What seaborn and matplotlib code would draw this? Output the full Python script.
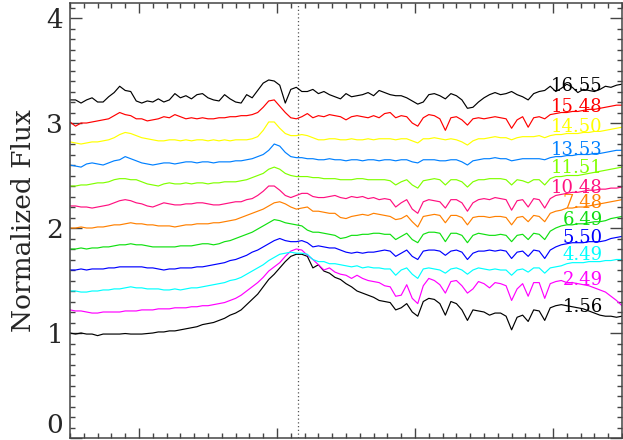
import numpy as np
import pandas as pd
import matplotlib
matplotlib.use("Agg")
import matplotlib.pyplot as plt
from matplotlib.ticker import MultipleLocator, NullFormatter
import seaborn as sns

# Wavelength grid of the resampled spectra (Angstrom)
wavelength = np.arange(5950, 6351, 4)

# Epoch of each spectrum (days), listed bottom to top
epochs = ["1.56", "2.49", "4.49", "5.50", "6.49", "7.48",
          "10.48", "11.51", "13.53", "14.50", "15.48", "16.55"]

colors = ["#000000", "#ff00ff", "#00ffff", "#0000ff", "#10e010", "#ff8000",
          "#ff1080", "#80ff00", "#0080ff", "#ffff00", "#ff0000", "#000000"]

# Normalized flux of each spectrum, vertically offset for display
flux_1_56 = [1.00, 0.99, 1.00, 0.99, 0.99, 0.975, 0.99, 0.99, 0.99, 0.99,
             0.995, 0.99, 0.99, 0.99, 0.995, 1.00, 1.01, 1.01, 1.02, 1.02,
             1.03, 1.04, 1.05, 1.06, 1.08, 1.09, 1.10, 1.12, 1.14, 1.17,
             1.19, 1.22, 1.27, 1.32, 1.37, 1.44, 1.51, 1.56, 1.62, 1.68,
             1.73, 1.75, 1.75, 1.73, 1.62, 1.65, 1.59, 1.57, 1.53, 1.51,
             1.47, 1.44, 1.40, 1.38, 1.36, 1.34, 1.31, 1.30, 1.29, 1.22,
             1.24, 1.28, 1.20, 1.16, 1.30, 1.33, 1.32, 1.28, 1.17, 1.30,
             1.28, 1.22, 1.12, 1.22, 1.21, 1.20, 1.17, 1.19, 1.19, 1.16,
             1.03, 1.15, 1.17, 1.11, 1.22, 1.21, 1.12, 1.24, 1.26, 1.27,
             1.26, 1.25, 1.24, 1.23, 1.21, 1.19, 1.17, 1.16, 1.16, 1.15,
             1.16]
flux_2_49 = [1.22, 1.21, 1.21, 1.20, 1.19, 1.19, 1.20, 1.20, 1.20, 1.20,
             1.21, 1.21, 1.21, 1.22, 1.22, 1.22, 1.23, 1.23, 1.23, 1.24,
             1.24, 1.24, 1.25, 1.25, 1.26, 1.26, 1.27, 1.28, 1.29, 1.31,
             1.33, 1.36, 1.40, 1.44, 1.48, 1.53, 1.59, 1.63, 1.67, 1.73,
             1.78, 1.80, 1.79, 1.74, 1.70, 1.65, 1.60, 1.62, 1.58, 1.56,
             1.55, 1.52, 1.55, 1.52, 1.50, 1.49, 1.48, 1.45, 1.44, 1.35,
             1.36, 1.46, 1.33, 1.28, 1.45, 1.52, 1.50, 1.46, 1.38, 1.49,
             1.50, 1.45, 1.38, 1.42, 1.49, 1.47, 1.43, 1.48, 1.47, 1.45,
             1.31, 1.42, 1.47, 1.35, 1.48, 1.48, 1.33, 1.47, 1.49, 1.50,
             1.48, 1.48, 1.47, 1.46, 1.45, 1.43, 1.41, 1.39, 1.35, 1.31,
             1.26]
flux_4_49 = [1.40, 1.40, 1.39, 1.39, 1.40, 1.40, 1.41, 1.41, 1.42, 1.42,
             1.43, 1.44, 1.43, 1.43, 1.42, 1.42, 1.42, 1.41, 1.41, 1.42,
             1.41, 1.42, 1.43, 1.43, 1.44, 1.45, 1.46, 1.47, 1.48, 1.50,
             1.51, 1.53, 1.56, 1.59, 1.62, 1.65, 1.69, 1.72, 1.75, 1.76,
             1.77, 1.76, 1.76, 1.75, 1.70, 1.68, 1.68, 1.66, 1.66, 1.65,
             1.64, 1.63, 1.64, 1.62, 1.63, 1.62, 1.62, 1.61, 1.61, 1.55,
             1.60, 1.62, 1.56, 1.52, 1.61, 1.62, 1.61, 1.60, 1.57, 1.61,
             1.62, 1.60, 1.56, 1.60, 1.62, 1.61, 1.60, 1.61, 1.60, 1.60,
             1.55, 1.60, 1.61, 1.58, 1.62, 1.62, 1.57, 1.62, 1.63, 1.64,
             1.66, 1.67, 1.67, 1.67, 1.68, 1.68, 1.68, 1.69, 1.69, 1.70,
             1.70]
flux_5_50 = [1.60, 1.60, 1.61, 1.60, 1.61, 1.61, 1.61, 1.62, 1.62, 1.63,
             1.63, 1.63, 1.63, 1.63, 1.62, 1.62, 1.61, 1.60, 1.61, 1.61,
             1.62, 1.62, 1.62, 1.63, 1.63, 1.64, 1.65, 1.66, 1.67, 1.69,
             1.70, 1.72, 1.74, 1.77, 1.79, 1.82, 1.85, 1.88, 1.90, 1.88,
             1.87, 1.87, 1.88, 1.86, 1.82, 1.83, 1.82, 1.81, 1.81, 1.79,
             1.77, 1.76, 1.77, 1.76, 1.77, 1.77, 1.78, 1.79, 1.78, 1.73,
             1.76, 1.79, 1.73, 1.70, 1.78, 1.79, 1.79, 1.78, 1.74, 1.78,
             1.79, 1.77, 1.70, 1.76, 1.78, 1.78, 1.79, 1.78, 1.79, 1.78,
             1.71, 1.77, 1.78, 1.73, 1.79, 1.78, 1.71, 1.79, 1.82, 1.84,
             1.85, 1.86, 1.86, 1.86, 1.87, 1.87, 1.87, 1.88, 1.90, 1.91,
             1.92]
flux_6_49 = [1.80, 1.80, 1.81, 1.80, 1.81, 1.81, 1.82, 1.82, 1.83, 1.84,
             1.84, 1.85, 1.84, 1.84, 1.83, 1.82, 1.82, 1.82, 1.82, 1.82,
             1.83, 1.83, 1.83, 1.84, 1.85, 1.85, 1.84, 1.85, 1.87, 1.88,
             1.90, 1.92, 1.94, 1.96, 1.99, 2.02, 2.05, 2.08, 2.07, 2.05,
             2.04, 2.03, 2.02, 1.98, 1.96, 1.96, 1.95, 1.94, 1.93, 1.90,
             1.91, 1.93, 1.93, 1.94, 1.94, 1.95, 1.95, 1.94, 1.94, 1.89,
             1.92, 1.95, 1.89, 1.86, 1.94, 1.96, 1.96, 1.95, 1.87, 1.95,
             1.95, 1.93, 1.86, 1.93, 1.95, 1.94, 1.93, 1.93, 1.94, 1.93,
             1.87, 1.93, 1.94, 1.89, 1.95, 1.94, 1.89, 1.97, 2.00, 2.02,
             2.03, 2.03, 2.04, 2.04, 2.05, 2.06, 2.06, 2.07, 2.09, 2.10,
             2.11]
flux_7_48 = [2.00, 2.00, 2.01, 2.00, 2.00, 2.01, 2.01, 2.02, 2.03, 2.03,
             2.04, 2.05, 2.04, 2.04, 2.03, 2.03, 2.02, 2.02, 2.02, 2.01,
             2.02, 2.03, 2.03, 2.04, 2.04, 2.04, 2.05, 2.05, 2.06, 2.07,
             2.08, 2.10, 2.12, 2.14, 2.16, 2.18, 2.21, 2.24, 2.25, 2.23,
             2.20, 2.18, 2.19, 2.20, 2.16, 2.16, 2.15, 2.14, 2.14, 2.10,
             2.09, 2.11, 2.12, 2.13, 2.12, 2.14, 2.13, 2.12, 2.11, 2.08,
             2.09, 2.12, 2.06, 2.01, 2.11, 2.12, 2.13, 2.12, 2.05, 2.12,
             2.12, 2.10, 2.03, 2.10, 2.11, 2.11, 2.10, 2.11, 2.11, 2.10,
             2.03, 2.10, 2.11, 2.06, 2.12, 2.11, 2.06, 2.14, 2.16, 2.17,
             2.19, 2.19, 2.20, 2.20, 2.21, 2.22, 2.23, 2.24, 2.25, 2.26,
             2.27]
flux_10_48 = [2.21, 2.21, 2.20, 2.20, 2.19, 2.20, 2.21, 2.22, 2.24, 2.26,
              2.27, 2.26, 2.24, 2.23, 2.21, 2.20, 2.22, 2.24, 2.23, 2.22,
              2.22, 2.23, 2.23, 2.24, 2.24, 2.23, 2.22, 2.22, 2.23, 2.24,
              2.25, 2.25, 2.27, 2.28, 2.31, 2.35, 2.40, 2.40, 2.36, 2.31,
              2.29, 2.31, 2.33, 2.33, 2.30, 2.29, 2.29, 2.30, 2.31, 2.29,
              2.28, 2.30, 2.29, 2.30, 2.28, 2.29, 2.27, 2.28, 2.27, 2.20,
              2.24, 2.27, 2.18, 2.14, 2.25, 2.27, 2.26, 2.25, 2.19, 2.27,
              2.27, 2.24, 2.16, 2.24, 2.27, 2.28, 2.27, 2.29, 2.28, 2.27,
              2.17, 2.26, 2.27, 2.20, 2.28, 2.27, 2.19, 2.28, 2.31, 2.32,
              2.33, 2.34, 2.34, 2.35, 2.36, 2.36, 2.37, 2.37, 2.38, 2.38,
              2.39]
flux_11_51 = [2.40, 2.40, 2.41, 2.41, 2.42, 2.43, 2.43, 2.44, 2.46, 2.47,
              2.47, 2.46, 2.46, 2.44, 2.42, 2.41, 2.40, 2.42, 2.43, 2.42,
              2.42, 2.43, 2.42, 2.43, 2.43, 2.42, 2.43, 2.43, 2.44, 2.44,
              2.44, 2.45, 2.46, 2.48, 2.50, 2.52, 2.56, 2.58, 2.56, 2.52,
              2.50, 2.49, 2.49, 2.49, 2.48, 2.48, 2.47, 2.47, 2.47, 2.46,
              2.46, 2.46, 2.47, 2.47, 2.46, 2.46, 2.46, 2.46, 2.45, 2.41,
              2.44, 2.46, 2.41, 2.38, 2.45, 2.46, 2.47, 2.46, 2.41, 2.46,
              2.46, 2.44, 2.39, 2.44, 2.46, 2.46, 2.47, 2.47, 2.47, 2.46,
              2.41, 2.46, 2.45, 2.43, 2.46, 2.46, 2.41, 2.47, 2.49, 2.49,
              2.50, 2.50, 2.50, 2.51, 2.52, 2.53, 2.54, 2.55, 2.56, 2.57,
              2.58]
flux_13_53 = [2.60, 2.59, 2.58, 2.61, 2.62, 2.61, 2.60, 2.62, 2.64, 2.65,
              2.68, 2.66, 2.64, 2.62, 2.61, 2.60, 2.61, 2.62, 2.62, 2.61,
              2.62, 2.63, 2.63, 2.62, 2.63, 2.63, 2.62, 2.63, 2.63, 2.63,
              2.64, 2.64, 2.65, 2.66, 2.68, 2.70, 2.74, 2.80, 2.78, 2.72,
              2.68, 2.67, 2.67, 2.66, 2.66, 2.65, 2.65, 2.66, 2.65, 2.65,
              2.64, 2.65, 2.65, 2.64, 2.65, 2.65, 2.64, 2.65, 2.65, 2.64,
              2.65, 2.65, 2.63, 2.62, 2.65, 2.65, 2.65, 2.64, 2.64, 2.65,
              2.65, 2.63, 2.60, 2.64, 2.65, 2.66, 2.66, 2.67, 2.66, 2.66,
              2.64, 2.65, 2.66, 2.66, 2.66, 2.66, 2.65, 2.67, 2.68, 2.68,
              2.69, 2.69, 2.70, 2.70, 2.70, 2.71, 2.71, 2.72, 2.73, 2.74,
              2.74]
flux_14_50 = [2.82, 2.81, 2.80, 2.81, 2.82, 2.82, 2.83, 2.84, 2.86, 2.89,
              2.91, 2.90, 2.88, 2.86, 2.85, 2.84, 2.83, 2.83, 2.84, 2.84,
              2.83, 2.84, 2.83, 2.84, 2.84, 2.83, 2.84, 2.83, 2.84, 2.83,
              2.84, 2.84, 2.84, 2.85, 2.87, 2.93, 3.01, 3.01, 2.95, 2.90,
              2.88, 2.88, 2.89, 2.88, 2.86, 2.84, 2.84, 2.85, 2.85, 2.84,
              2.84, 2.85, 2.84, 2.84, 2.85, 2.84, 2.85, 2.85, 2.85, 2.84,
              2.85, 2.85, 2.83, 2.81, 2.85, 2.85, 2.86, 2.85, 2.84, 2.85,
              2.84, 2.82, 2.79, 2.83, 2.85, 2.85, 2.86, 2.87, 2.86, 2.86,
              2.84, 2.86, 2.87, 2.87, 2.87, 2.88, 2.86, 2.88, 2.89, 2.89,
              2.90, 2.90, 2.90, 2.91, 2.91, 2.92, 2.92, 2.93, 2.94, 2.95,
              2.96]
flux_15_48 = [3.01, 2.97, 3.00, 3.00, 3.01, 3.02, 3.03, 3.04, 3.07, 3.10,
              3.08, 3.07, 3.04, 3.04, 3.02, 3.03, 3.04, 3.06, 3.05, 3.08,
              3.06, 3.04, 3.05, 3.04, 3.05, 3.04, 3.04, 3.05, 3.05, 3.06,
              3.06, 3.07, 3.07, 3.08, 3.10, 3.15, 3.21, 3.22, 3.16, 3.10,
              3.05, 3.04, 3.06, 3.09, 3.05, 3.07, 3.06, 3.08, 3.07, 3.06,
              3.03, 3.06, 3.07, 3.06, 3.05, 3.07, 3.05, 3.09, 3.10, 3.05,
              3.07, 3.06, 3.00, 2.97, 3.05, 3.08, 3.07, 3.04, 2.93, 3.05,
              3.06, 3.03, 2.98, 3.04, 3.05, 3.04, 3.05, 3.06, 3.05, 3.04,
              2.95, 3.03, 3.06, 2.96, 3.05, 3.06, 3.04, 3.08, 3.09, 3.10,
              3.10, 3.11, 3.11, 3.12, 3.13, 3.13, 3.14, 3.15, 3.16, 3.17,
              3.17]
flux_16_55 = [3.22, 3.22, 3.19, 3.22, 3.24, 3.20, 3.20, 3.25, 3.29, 3.35,
              3.31, 3.30, 3.21, 3.19, 3.21, 3.20, 3.23, 3.20, 3.22, 3.28,
              3.24, 3.26, 3.23, 3.27, 3.28, 3.24, 3.22, 3.21, 3.27, 3.23,
              3.20, 3.19, 3.27, 3.24, 3.31, 3.38, 3.41, 3.40, 3.36, 3.19,
              3.32, 3.34, 3.30, 3.30, 3.32, 3.28, 3.30, 3.27, 3.25, 3.23,
              3.28, 3.25, 3.26, 3.27, 3.29, 3.26, 3.31, 3.29, 3.27, 3.26,
              3.26, 3.24, 3.21, 3.18, 3.20, 3.27, 3.28, 3.26, 3.23, 3.28,
              3.26, 3.22, 3.14, 3.15, 3.20, 3.24, 3.27, 3.29, 3.27, 3.28,
              3.30, 3.27, 3.25, 3.22, 3.28, 3.30, 3.31, 3.35, 3.30, 3.33,
              3.37, 3.34, 3.29, 3.32, 3.31, 3.30, 3.32, 3.35, 3.34, 3.36,
              3.37]

fluxes = [flux_1_56, flux_2_49, flux_4_49, flux_5_50, flux_6_49, flux_7_48,
          flux_10_48, flux_11_51, flux_13_53, flux_14_50, flux_15_48, flux_16_55]

# Baseline height of each epoch label next to its spectrum
label_y = [1.20, 1.457, 1.695, 1.857, 2.029, 2.19,
           2.333, 2.524, 2.695, 2.914, 3.105, 3.305]
label_x = 6336
line_center = 6115

df = pd.concat(
    [pd.DataFrame({"wavelength": wavelength, "flux": f, "epoch": e})
     for e, f in zip(epochs, fluxes)],
    ignore_index=True,
)

sns.set_style("ticks")
plt.rcParams["font.family"] = ["DejaVu Serif"]

fig = plt.figure(figsize=(6.23, 4.40), dpi=100)
ax = fig.add_axes([70 / 623, 2 / 440, 552 / 623, 435 / 440])

sns.lineplot(data=df, x="wavelength", y="flux", hue="epoch",
             hue_order=epochs, palette=colors, legend=False,
             estimator=None, sort=False, linewidth=0.85, ax=ax)

ax.axvline(line_center, color="#555555", linestyle=(0, (1, 2)),
           linewidth=0.9, zorder=0)

for e, c, y in zip(epochs, colors, label_y):
    ax.text(label_x, y, e, color=c, ha="right", va="baseline",
            fontsize=13, family="DejaVu Serif")

ax.set_xlim(5950, 6350)
ax.set_ylim(0, 4.143)
ax.xaxis.set_major_locator(MultipleLocator(100))
ax.xaxis.set_minor_locator(MultipleLocator(10))
ax.set_yticks([0, 1, 2, 3, 4])
ax.set_yticklabels(["0", "1", "2", "3", "4"])
ax.yaxis.set_minor_locator(MultipleLocator(0.1))
ax.xaxis.set_major_formatter(NullFormatter())
ax.set_xlabel("")
ax.set_ylabel("Normalized Flux", fontsize=19, labelpad=7)

ax.tick_params(axis="both", which="both", direction="in",
               top=True, right=True, color="#444444")
ax.tick_params(axis="y", which="major", length=8.5, width=1.0,
               labelsize=19, pad=5)
ax.tick_params(axis="y", which="minor", length=3.8, width=1.0)
ax.tick_params(axis="x", which="major", length=7.5, width=1.0)
ax.tick_params(axis="x", which="minor", length=3.8, width=1.0)
for s in ax.spines.values():
    s.set_color("#444444")
    s.set_linewidth(1.1)

# keep the "0" label inside the figure by resting it on the bottom edge
ax.get_yticklabels()[0].set_verticalalignment("bottom")

fig.savefig("out.png", dpi=100)
